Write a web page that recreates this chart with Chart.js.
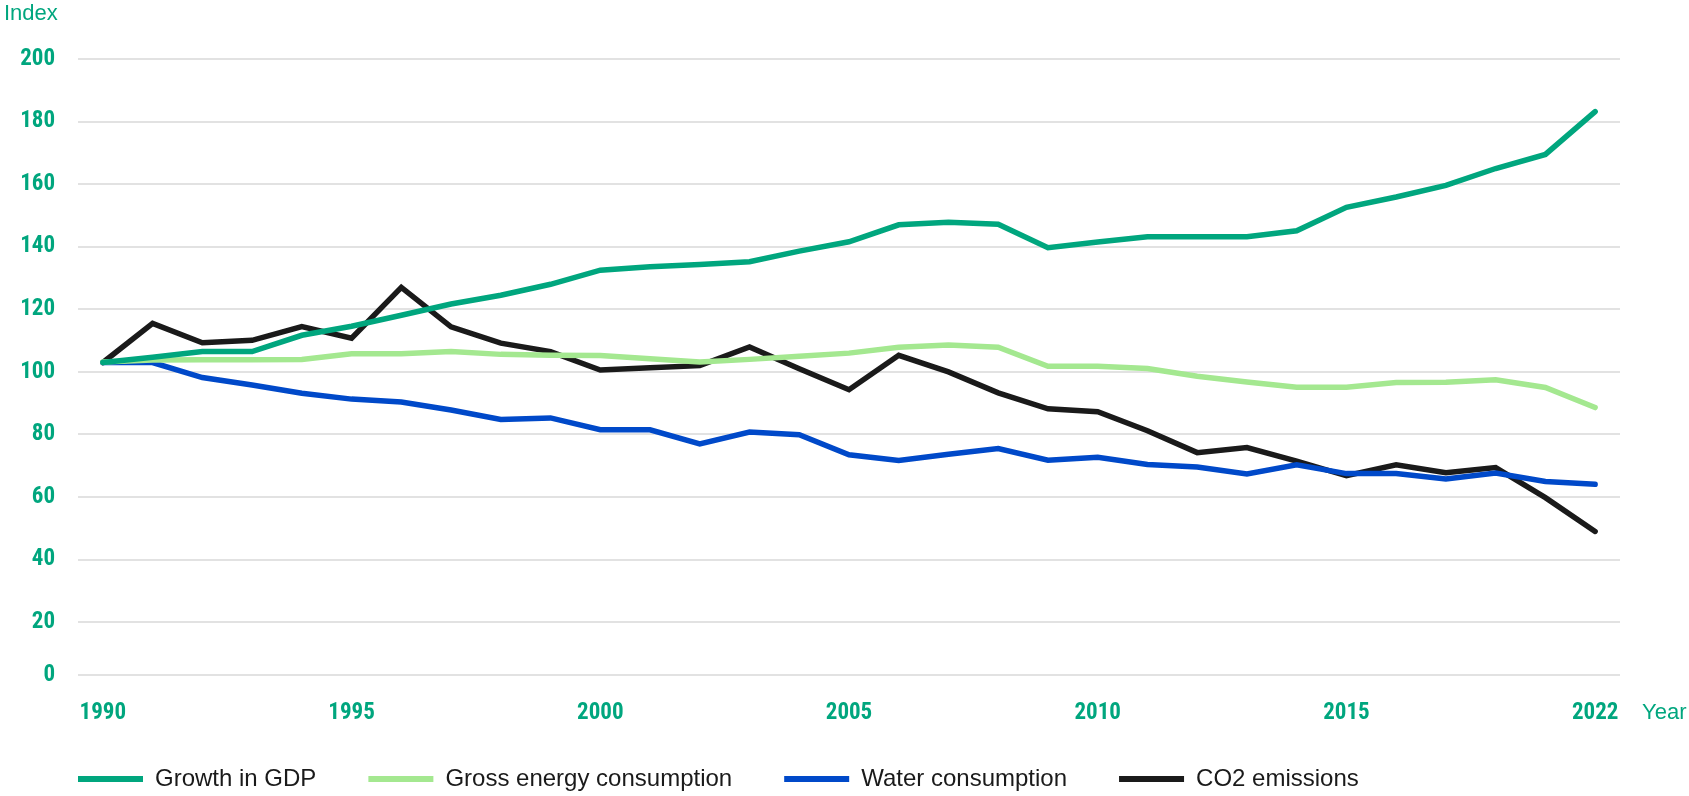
<!DOCTYPE html>
<html lang="en">
<head>
    <meta charset="UTF-8">
    <title>Index</title>
    <script src="https://cdn.jsdelivr.net/npm/chart.js"></script>
    <style>
        html, body { margin: 0; padding: 0; background: #fff; }
        canvas { display: block; }
    </style>
</head>
<body>

<canvas id="indexChart" width="1689" height="796"></canvas>

<script>
    // categories (the series jumps from 2019 straight to 2022)
    const years = ['1990', '1991', '1992', '1993', '1994', '1995', '1996', '1997', '1998', '1999',
                   '2000', '2001', '2002', '2003', '2004', '2005', '2006', '2007', '2008', '2009',
                   '2010', '2011', '2012', '2013', '2014', '2015', '2016', '2017', '2018', '2019', '2022'];
    const yearTicks = ['1990', '1995', '2000', '2005', '2010', '2015', '2022'];
    const indexTicks = [0, 20, 40, 60, 80, 100, 120, 140, 160, 180, 200];

    const gdp = [103, 104.7, 106.5, 106.5, 111.7, 114.6, 118.1, 121.7, 124.5, 128,
                 132.5, 133.6, 134.3, 135.2, 138.6, 141.6, 147, 147.8, 147.2, 139.7,
                 141.5, 143.2, 143.2, 143.2, 145.1, 152.6, 155.9, 159.6, 165, 169.5, 183.2];
    const energy = [103.2, 103.8, 103.9, 103.9, 104, 105.8, 105.8, 106.5, 105.6, 105.3,
                    105.2, 104.2, 103.2, 104, 105, 106, 107.9, 108.6, 107.9, 101.8,
                    101.8, 101.1, 98.6, 96.8, 95.1, 95.1, 96.6, 96.7, 97.5, 95, 88.6];
    const water = [103, 103, 98.2, 95.8, 93.2, 91.3, 90.4, 87.8, 84.8, 85.3,
                   81.5, 81.5, 77, 80.8, 79.9, 73.5, 71.7, 73.7, 75.5, 71.8,
                   72.7, 70.4, 69.6, 67.4, 70.3, 67.5, 67.5, 65.8, 67.7, 65, 64.1];
    const co2 = [103, 115.5, 109.3, 110.1, 114.5, 110.8, 127, 114.4, 109.2, 106.5,
                 100.6, 101.3, 102, 108, 101, 94.3, 105.3, 100, 93.3, 88.2,
                 87.3, 81.2, 74.2, 75.8, 71.5, 66.8, 70.3, 67.8, 69.4, 59.8, 49];

    const teal = '#00a67e';
    // the "0" line of the original sits a little above true zero
    const yFloor = 3;

    const axisTexts = {
        id: 'axisTexts',
        afterLayout(chart) {
            // legend rows start under the plot and sit closer to the year labels
            const lg = chart.legend;
            const pad = lg.options.labels.padding;
            const w = lg.right - lg.left;
            const h = lg.bottom - lg.top;
            lg.left = chart.chartArea.left - pad;
            lg.right = lg.left + w;
            lg.top = 779 - pad - 12;
            lg.bottom = lg.top + h;
        },
        afterDraw(chart) {
            const ctx = chart.ctx;
            ctx.save();
            ctx.fillStyle = teal;
            ctx.font = '22px "Liberation Sans", Arial, sans-serif';
            ctx.textBaseline = 'middle';
            ctx.textAlign = 'left';
            ctx.fillText('Index', 4, 14);
            ctx.fillText('Year', chart.chartArea.right + 22, 713);
            ctx.restore();
        }
    };

    function line(label, data, color) {
        return {
            label: label,
            data: data,
            borderColor: color,
            backgroundColor: color,
            borderWidth: 5.5,
            borderCapStyle: 'round',
            pointRadius: 0,
            pointHoverRadius: 0,
            tension: 0
        };
    }

    const tickFont = { family: '"Liberation Sans Narrow", "Roboto Condensed", "Liberation Sans", sans-serif', size: 23, weight: 'bold' };

    new Chart(document.getElementById('indexChart'), {
        type: 'line',
        data: {
            labels: years,
            datasets: [
                line('Growth in GDP', gdp, teal),
                line('Gross energy consumption', energy, '#a4e890'),
                line('Water consumption', water, '#0049c9'),
                line('CO2 emissions', co2, '#1a1a1a')
            ]
        },
        options: {
            responsive: false,
            animation: false,
            layout: { padding: { left: 0, right: 69, top: 59, bottom: -41 } },
            plugins: {
                title: { display: false },
                tooltip: { enabled: false },
                legend: {
                    position: 'bottom',
                    align: 'start',
                    labels: {
                        usePointStyle: true,
                        pointStyle: 'line',
                        pointStyleWidth: 65,
                        boxHeight: 24,
                        padding: 52,
                        color: '#1a1a1a',
                        font: { family: '"Liberation Sans", Arial, sans-serif', size: 24 },
                        generateLabels(chart) {
                            const items = Chart.defaults.plugins.legend.labels.generateLabels(chart);
                            items.forEach(it => { it.lineCap = 'butt'; it.lineWidth = 6; });
                            return items;
                        }
                    }
                }
            },
            scales: {
                x: {
                    offset: true,
                    grid: { display: false, drawTicks: false },
                    border: { display: false },
                    ticks: {
                        autoSkip: false,
                        maxRotation: 0,
                        padding: 24,
                        color: teal,
                        font: tickFont,
                        callback: function (value) {
                            const lab = this.getLabelForValue(value);
                            return yearTicks.includes(lab) ? lab : null;
                        }
                    }
                },
                y: {
                    min: yFloor,
                    max: 200,
                    afterBuildTicks: (scale) => {
                        scale.ticks = indexTicks.map(v => ({ value: Math.max(v, yFloor), label: String(v) }));
                    },
                    afterFit: (scale) => { scale.width = 78; },
                    grid: { color: '#e2e2e2', lineWidth: 2, drawTicks: false },
                    border: { display: false },
                    ticks: {
                        padding: 23,
                        color: teal,
                        font: tickFont,
                        callback: (value) => (value === yFloor ? '0' : value)
                    }
                }
            }
        },
        plugins: [axisTexts]
    });
</script>
</body>
</html>
